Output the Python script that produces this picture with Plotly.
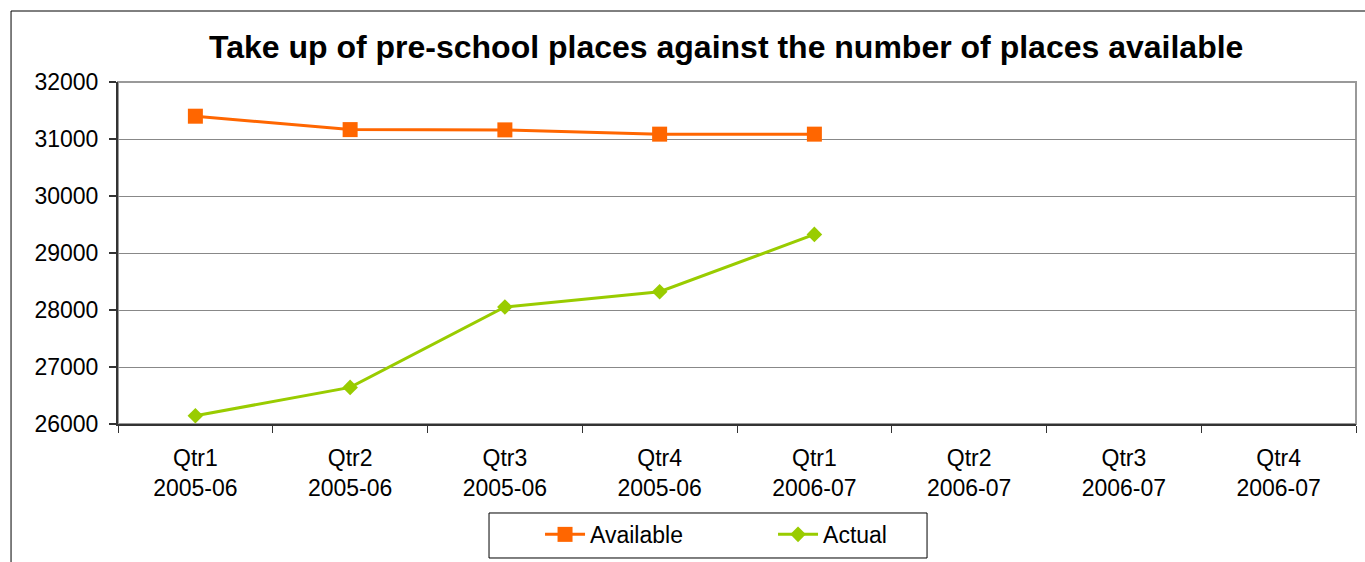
import plotly.graph_objects as go

# Quarterly categories and the two series
quarters = ["Qtr1", "Qtr2", "Qtr3", "Qtr4", "Qtr1", "Qtr2", "Qtr3", "Qtr4"]
years = ["2005-06", "2005-06", "2005-06", "2005-06", "2006-07", "2006-07", "2006-07", "2006-07"]
available = [31400, 31165, 31160, 31085, 31085, None, None, None]
actual = [26146, 26642, 28053, 28321, 29326, None, None, None]

categories = [f"{q}<br>{y}" for q, y in zip(quarters, years)]

FONT = "Liberation Sans, Arial, sans-serif"
ORANGE = "#FF6600"
GREEN = "#99CC00"
AXIS = "#333333"

fig = go.Figure()
fig.add_trace(go.Scatter(
    x=categories, y=available, name="Available", mode="lines+markers",
    line=dict(color=ORANGE, width=3),
    marker=dict(symbol="square", size=15, color=ORANGE),
))
fig.add_trace(go.Scatter(
    x=categories, y=actual, name="Actual", mode="lines+markers",
    line=dict(color=GREEN, width=3),
    marker=dict(symbol="diamond", size=12, color=GREEN),
))

# Plot-area border (top and right show in grey)
fig.add_shape(type="rect", xref="paper", yref="paper", x0=0, x1=1, y0=0, y1=1,
              line=dict(color="#999999", width=2), layer="below")
# Outer chart frame
fig.add_shape(type="rect", xref="paper", yref="paper",
              x0=-0.0864, x1=1.02, y0=-0.45, y1=1.2076,
              line=dict(color="black", width=1), layer="below")
# Legend frame
fig.add_shape(type="rect", xref="paper", yref="paper",
              x0=0.2997, x1=0.6535, y0=-0.3918, y1=-0.2602,
              line=dict(color="black", width=1), fillcolor="white", layer="below")

fig.update_layout(
    width=1365, height=562,
    margin=dict(l=118, r=9, t=82, b=138, autoexpand=False),
    paper_bgcolor="white", plot_bgcolor="white",
    font=dict(family=FONT, size=23, color="black"),
    title=dict(text="<b>Take up of pre-school places against the number of places available</b>",
               font=dict(family=FONT, size=32, color="black"),
               x=0.532, xanchor="center", xref="container",
               y=0.916, yanchor="middle", yref="container"),
    showlegend=True,
    legend=dict(orientation="h", x=0.3409, xanchor="left", y=-0.26, yanchor="top",
                borderwidth=0, bgcolor="rgba(0,0,0,0)",
                font=dict(family=FONT, size=23, color="black"),
                entrywidth=178, itemwidth=40),
    xaxis=dict(type="category", range=[-0.5, 7.5], tickson="boundaries",
               ticks="outside", ticklen=7, tickcolor=AXIS, tickwidth=1,
               showline=True, linecolor=AXIS, linewidth=2, automargin=False,
               showgrid=False, tickfont=dict(size=23), ticklabelstandoff=12),
    yaxis=dict(range=[26000, 32000], dtick=1000, tickformat="d",
               ticks="outside", ticklen=7, tickcolor=AXIS, tickwidth=2,
               showline=True, linecolor=AXIS, linewidth=2, automargin=False,
               showgrid=True, gridcolor="#888888", gridwidth=1,
               zeroline=False, tickfont=dict(size=23), ticklabelstandoff=6),
)

fig.write_html("out.html")
